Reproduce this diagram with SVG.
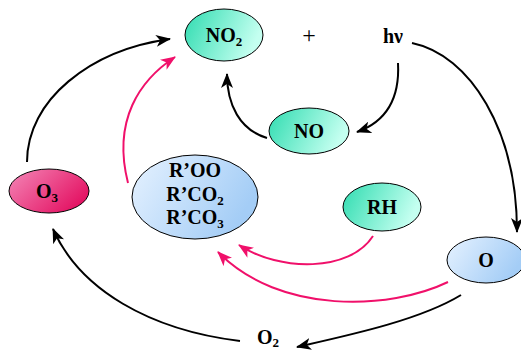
<svg xmlns="http://www.w3.org/2000/svg" width="521" height="351" viewBox="0 0 521 351">
<style>
.t{font-family:"Liberation Serif","Times New Roman",serif;font-weight:bold;font-size:20px;fill:#000;text-anchor:middle}
.s{font-size:13px}
.n{stroke:#000;stroke-width:1}
.k{fill:none;stroke:#000;stroke-width:2}
.p{fill:none;stroke:#f0106a;stroke-width:2}
</style>
<defs>
<linearGradient id="gg" x1="0" y1="0" x2="1" y2="0.3">
<stop offset="0" stop-color="#2fdcb0"/><stop offset="1" stop-color="#c4fff0"/>
</linearGradient>
<linearGradient id="gb" x1="0" y1="0" x2="1" y2="0.4">
<stop offset="0" stop-color="#e6f2ff"/><stop offset="1" stop-color="#a4cdf6"/>
</linearGradient>
<linearGradient id="gp" x1="0" y1="0" x2="1" y2="0.6">
<stop offset="0" stop-color="#f488b8"/><stop offset="1" stop-color="#e41464"/>
</linearGradient>
<marker id="ak" markerUnits="userSpaceOnUse" markerWidth="16" markerHeight="12" refX="14" refY="6" orient="auto">
<path d="M0,0 L15,6 L0,12 L4,6 z" fill="#000"/>
</marker>
<marker id="ap" markerUnits="userSpaceOnUse" markerWidth="16" markerHeight="12" refX="14" refY="6" orient="auto">
<path d="M0,0 L15,6 L0,12 L4,6 z" fill="#f0106a"/>
</marker>
</defs>
<g id="connectors">
<path class="k" d="M27,162 C27,100 90,50 170,39" marker-end="url(#ak)"/>
<path class="p" d="M128,183 C112,120 140,80 175,57" marker-end="url(#ap)"/>
<path class="k" d="M267,138 C240,130 227,105 227,74" marker-end="url(#ak)"/>
<path class="k" d="M398,63 C400,100 385,122 357,132" marker-end="url(#ak)"/>
<path class="k" d="M412,43 C470,55 517,130 517,232" marker-end="url(#ak)"/>
<path class="p" d="M373,236 C350,272 280,272 239,245" marker-end="url(#ap)"/>
<path class="p" d="M448,282 C390,310 280,315 218,252" marker-end="url(#ap)"/>
<path class="k" d="M461,295 C420,320 350,335 297,347" marker-end="url(#ak)"/>
<path class="k" d="M240,341 C150,330 80,290 53,229" marker-end="url(#ak)"/>
</g>
<g id="no2">
<ellipse class="n" cx="224" cy="35" rx="39" ry="26" fill="url(#gg)"/>
<text class="t" x="224" y="42">NO<tspan class="s" dy="4">2</tspan></text>
</g>
<g id="plus"><text class="t" x="309" y="43" style="font-weight:normal;font-size:24px">+</text></g>
<g id="hv"><text class="t" x="393" y="43">hν</text></g>
<g id="no">
<ellipse class="n" cx="309" cy="131" rx="40" ry="23" fill="url(#gg)"/>
<text class="t" x="309" y="138">NO</text>
</g>
<g id="o3">
<ellipse class="n" cx="49" cy="191" rx="40" ry="22" fill="url(#gp)"/>
<text class="t" x="47" y="198">O<tspan class="s" dy="4">3</tspan></text>
</g>
<g id="radicals">
<ellipse class="n" cx="195" cy="197" rx="63" ry="42" fill="url(#gb)"/>
<text class="t" x="195" y="177">R’OO</text>
<text class="t" x="195" y="201">R’CO<tspan class="s" dy="4">2</tspan></text>
<text class="t" x="195" y="224">R’CO<tspan class="s" dy="4">3</tspan></text>
</g>
<g id="rh">
<ellipse class="n" cx="382" cy="207" rx="39" ry="24" fill="url(#gg)"/>
<text class="t" x="382" y="214">RH</text>
</g>
<g id="o">
<ellipse class="n" cx="486" cy="260" rx="39" ry="23" fill="url(#gb)"/>
<text class="t" x="486" y="267">O</text>
</g>
<g id="o2">
<text class="t" x="268" y="344">O<tspan class="s" dy="3">2</tspan></text>
</g>
</svg>
